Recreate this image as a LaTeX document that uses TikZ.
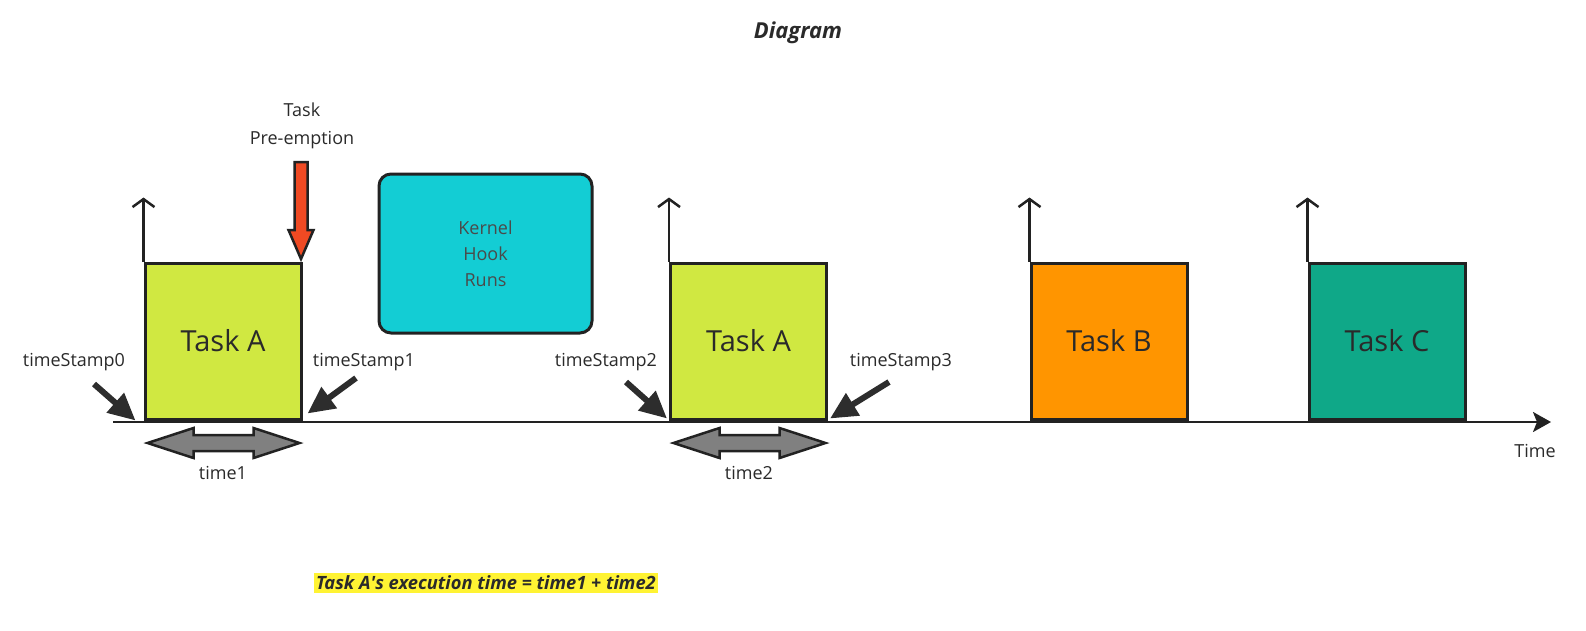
\documentclass[tikz,border=0pt]{standalone}
\usepackage{fontspec}
\setmainfont{Open Sans}
\usetikzlibrary{arrows.meta}
\definecolor{linec}{HTML}{222222}
\definecolor{textc}{HTML}{2A2A2A}
\definecolor{taskA}{HTML}{D0E841}
\definecolor{taskB}{HTML}{FF9500}
\definecolor{taskC}{HTML}{0FA888}
\definecolor{kernc}{HTML}{13CDD4}
\definecolor{prec}{HTML}{F04A23}
\definecolor{spang}{HTML}{808080}
\definecolor{hilite}{HTML}{FFF333}
\tikzset{
  task/.style={draw=linec,line width=3pt,minimum width=156pt,minimum height=156pt,
    inner sep=0pt,font=\fontsize{29}{32}\selectfont,text=textc},
  lbl/.style={font=\fontsize{18}{22}\selectfont,text=textc,inner sep=0pt},
  upaxis/.style={draw=linec,line width=2.5pt,-{Straight Barb[length=8pt,width=22pt]}},
  ptr/.style={draw=linec!95,line width=6pt,-{Triangle[length=27pt,width=25pt]}},
  spanarrow/.pic={
    \filldraw[draw=linec,line width=2.5pt,fill=spang,line join=miter]
      (-76,0) -- (-30,-15) -- (-30,-8) -- (30,-8) -- (30,-15) -- (76,0)
      -- (30,15) -- (30,8) -- (-30,8) -- (-30,15) -- cycle;},
  downarrow/.pic={
    \filldraw[draw=linec,line width=2.5pt,fill=prec,line join=miter]
      (-6.5,0) -- (6.5,0) -- (6.5,68) -- (12.5,68) -- (0,97)
      -- (-12.5,68) -- (-6.5,68) -- cycle;},
}
\begin{document}
\begin{tikzpicture}[x=1pt,y=-1pt]
\useasboundingbox (0,0) rectangle (1586,630);
%---------------------------------------------------
\node[font=\fontsize{22}{26}\selectfont\bfseries\itshape,text=textc] (title) at (798,33) {Diagram};
%---------------------------------------------------
% time axis
\coordinate (t0) at (113,422);
\coordinate (tend) at (1551,422);
\draw[draw=linec,line width=2.5pt,-{Stealth[length=18pt,width=20pt,inset=4pt]}] (t0) -- (tend);
\node[lbl] (timelbl) at (1535,451) {Time};
%---------------------------------------------------
% tasks
\node[task,fill=taskA] (A1) at (223,341) {\raisebox{-3pt}{Task A}};
\node[task,fill=taskA] (A2) at (748.5,341) {\raisebox{-3pt}{Task A}};
\node[task,fill=taskB] (B) at (1109,341) {\raisebox{-3pt}{Task B}};
\node[task,fill=taskC] (C) at (1387,341) {\raisebox{-3pt}{Task C}};
\foreach \b in {A1,A2,B,C}
  \draw[upaxis] (\b.north west) -- ++(0,-64);
%---------------------------------------------------
% kernel hook
\node[draw=linec,line width=3pt,fill=kernc,rounded corners=12pt,minimum width=213pt,
  minimum height=159pt,align=center,lbl,text=textc!85,font=\fontsize{18}{26}\selectfont] (kern) at (485.5,253.5) {Kernel\\Hook\\Runs};
%---------------------------------------------------
% pre-emption
\node[lbl,align=center,font=\fontsize{18}{28}\selectfont] (prelbl) at (302,126) {Task\\Pre-emption};
\coordinate (pre) at (301,162);
\pic at (pre) {downarrow};
%---------------------------------------------------
% time stamps
\node[lbl] (ts0) at (74,362) {timeStamp0};
\node[lbl] (ts1) at (364,362) {timeStamp1};
\node[lbl] (ts2) at (606,362) {timeStamp2};
\node[lbl] (ts3) at (901,362) {timeStamp3};
\draw[ptr] ([xshift=20pt,yshift=-22pt]ts0.center) -- ([xshift=-8pt]A1.south west);
\draw[ptr] ([xshift=-8pt,yshift=-16pt]ts1.center) -- ([xshift=5pt,yshift=7pt]A1.south east);
\draw[ptr] ([xshift=20pt,yshift=-20pt]ts2.center) -- ([xshift=-2pt,yshift=2pt]A2.south west);
\draw[ptr] ([xshift=-12pt,yshift=-20pt]ts3.center) -- ([xshift=2pt,yshift=2pt]A2.south east);
%---------------------------------------------------
% durations
\coordinate (span1) at (223.5,443);
\coordinate (span2) at (749.5,443);
\pic at (span1) {spanarrow};
\pic at (span2) {spanarrow};
\node[lbl] (time1) at (223,473) {time1};
\node[lbl] (time2) at (749,473) {time2};
%---------------------------------------------------
\node[lbl,fill=hilite,inner xsep=2pt,inner ysep=3pt,font=\fontsize{18.3}{22}\selectfont\bfseries\itshape] (sum) at (486,583)
  {Task A\textquotesingle s execution time = time1 + time2};
\end{tikzpicture}
\end{document}
